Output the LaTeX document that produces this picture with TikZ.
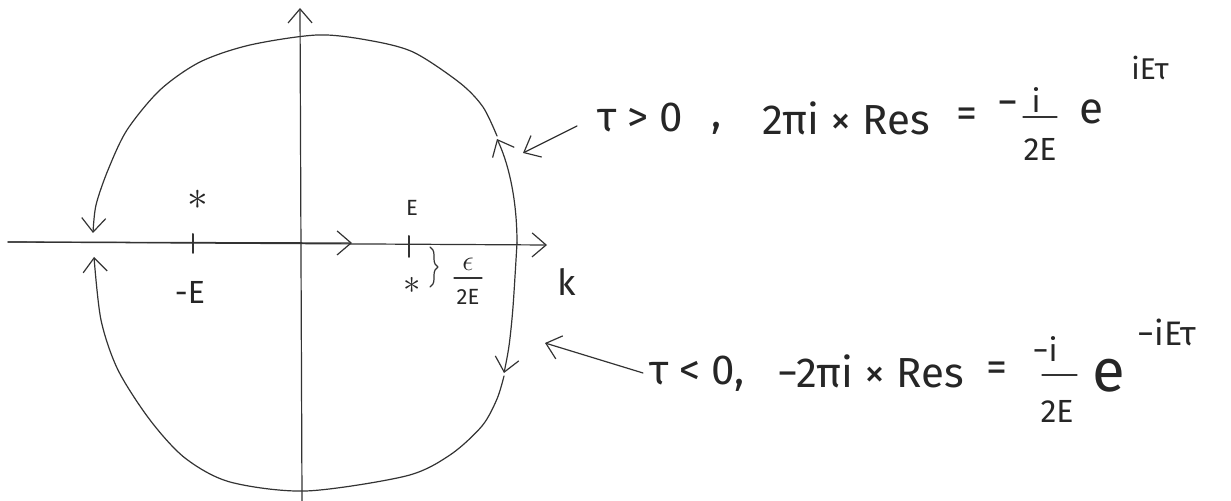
\documentclass[tikz,border=0pt]{standalone}
\usepackage{fontspec}
\setmainfont{Fira Sans}
\usetikzlibrary{arrows.meta,decorations.pathreplacing}

\newcommand{\fbig}{\fontsize{21}{24}\selectfont}
\newcommand{\fmid}{\fontsize{16}{18}\selectfont}
\newcommand{\fsml}{\fontsize{11}{13}\selectfont}

\tikzset{
    pen/.style={draw=black!80, line width=0.6pt, line cap=round, line join=round},
    barb/.style={-{Straight Barb[length=7pt,width=12pt]}},
    lbl/.style={inner sep=0pt, text=black!85}
}

\begin{document}
\begin{tikzpicture}[x=0.5pt,y=-0.5pt]
    \useasboundingbox (0,0) rectangle (1231,501);

    \coordinate (axL) at (8,242);
    \coordinate (axR) at (547,245);
    \coordinate (axM) at (352,243);
    \coordinate (axB) at (302,501);
    \coordinate (axT) at (300,8);
    \coordinate (cR) at (517,243);

    % axes
    \draw[pen,barb] (axB) -- (axT);
    \draw[pen,barb] (axL) -- (axR);
    \draw[pen,barb] (axL) -- (axM);
    \draw[pen,line width=1pt] (193,234) -- (193,253);
    \draw[pen,line width=1pt] (409,236) -- (409,257);

    % upper contour
    \draw[pen,barb] (cR) .. controls (517,195) and (507,160) .. (497,139);
    \draw[pen,barb] plot[smooth] coordinates {(497,136) (483,107) (460,83) (413,52) (367,40) (317,35) (250,45) (200,62) (160,90) (127,130) (108,170) (96,205) (93,233)};

    % lower contour
    \draw[pen,barb] plot[smooth] coordinates {(cR) (513,307) (509,346) (504,373)};
    \draw[pen,barb] plot[smooth] coordinates {(504,376) (497,399) (482,426) (450,455) (406,476) (306,491) (230,482) (185,458) (150,420) (118,370) (101,320) (94,257)};

    % poles
    \node[lbl,font=\fontsize{20}{20}\selectfont] (poleU) at (198,200) {$\ast$};
    \node[lbl,font=\fontsize{17}{17}\selectfont] (poleD) at (412,285) {$\ast$};
    \node[lbl,font=\fmid] (mE) at (190,292) {-E};
    \node[lbl,font=\fsml] (pE) at (412,208) {E};
    \draw[pen,decorate,decoration={brace,amplitude=4pt}] (430,247) -- (430,287);
    \node[lbl,font=\fontsize{15}{15}\selectfont] (eps) at (468,264) {$\epsilon$};
    \draw[pen] (454,278) -- (482,278);
    \node[lbl,font=\fsml] (epsD) at (468,297) {2E};
    \node[lbl,font=\fontsize{18}{18}\selectfont] (kk) at (567,282) {k};

    % tau > 0
    \node[lbl,font=\fbig] (tauP) at (640,117) {τ > 0};
    \node[lbl,font=\fbig] (commaP) at (717,128) {,};
    \node[lbl,font=\fbig] (resP) at (846,118) {2πi × Res};
    \node[lbl,font=\fbig] (eqP) at (967,118) {=};
    \node[lbl,font=\fbig] (mnP) at (1008,109) {−};
    \node[lbl,font=\fmid] (numP) at (1036,100) {i};
    \draw[pen] (1023,117) -- (1057,117);
    \node[lbl,font=\fmid] (denP) at (1040,149) {2E};
    \node[lbl,font=\fontsize{22}{22}\selectfont] (expP) at (1091,112) {e};
    \node[lbl,font=\fontsize{15}{15}\selectfont] (supP) at (1150,68) {iEτ};
    \draw[pen,barb] (577,126) -- (523,153);

    % tau < 0
    \node[lbl,font=\fbig] (tauN) at (697,374) {τ < 0,};
    \node[lbl,font=\fbig] (resN) at (871,371) {−2πi × Res};
    \node[lbl,font=\fbig] (eqN) at (997,372) {=};
    \node[lbl,font=\fmid] (numN) at (1045,349) {−i};
    \draw[pen] (1042,375) -- (1077,375);
    \node[lbl,font=\fmid] (denN) at (1057,411) {2E};
    \node[lbl,font=\fontsize{30}{30}\selectfont] (expN) at (1109,376) {e};
    \node[lbl,font=\fontsize{17}{17}\selectfont] (supN) at (1167,332) {−iEτ};
    \draw[pen,barb] (643,373) -- (545,343);
\end{tikzpicture}
\end{document}
